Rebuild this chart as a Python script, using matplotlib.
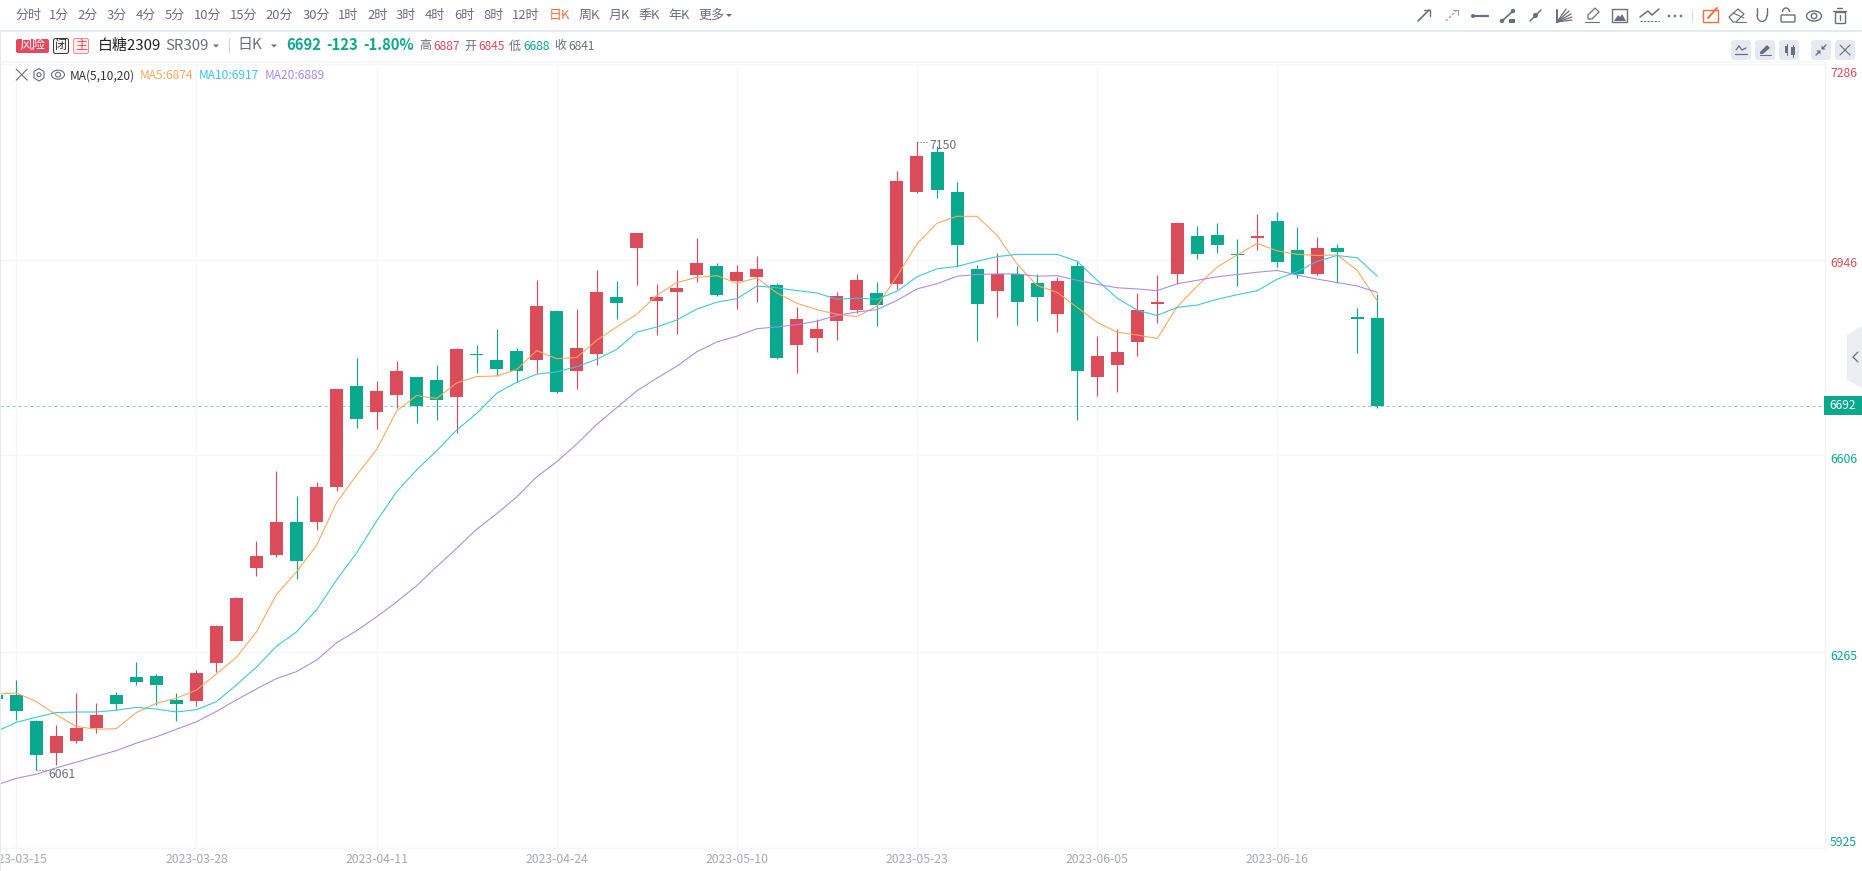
import matplotlib
matplotlib.use('Agg')
from matplotlib import pyplot as plt
from matplotlib.patches import Rectangle, FancyBboxPatch, Polygon, Circle, Ellipse, Arc

plt.rcParams['font.family'] = ['Noto Sans CJK SC', 'DejaVu Sans']

# daily candles, first one is cut off by the left edge of the chart
day_index = list(range(-1, 69))
opens = [6190, 6190, 6145, 6090, 6110, 6133, 6190, 6221, 6223, 6182, 6180, 6246, 6284, 6411, 6433, 6490, 6490, 6551,
         6726, 6681, 6711, 6742, 6737, 6707, 6782, 6771, 6787, 6771, 6856, 6752, 6782, 6881, 6966, 6874, 6889, 6919,
         6934, 6908, 6915, 6901, 6797, 6810, 6839, 6858, 6888, 6903, 7063, 7132, 7063, 6929, 6891, 6921, 6905, 6851,
         6934, 6742, 6763, 6803, 6868, 6921, 6986, 6988, 6955, 6983, 7012, 6962, 6921, 6966, 6846, 6845]
highs = [6192, 6216, 6147, 6138, 6194, 6176, 6195, 6247, 6227, 6194, 6234, 6312, 6360, 6457, 6579, 6535, 6560, 6721,
         6775, 6735, 6770, 6742, 6763, 6792, 6797, 6825, 6792, 6910, 6858, 6860, 6928, 6908, 6992, 6903, 6928, 6983,
         6940, 6936, 6952, 6905, 6863, 6842, 6889, 6921, 6907, 7099, 7150, 7143, 7080, 6936, 6957, 6934, 6921, 6915,
         6943, 6813, 6825, 6888, 6919, 7011, 7004, 7009, 6981, 7025, 7028, 7002, 6985, 6973, 6862, 6887]
lows = [6181, 6147, 6061, 6069, 6107, 6124, 6164, 6208, 6173, 6145, 6171, 6230, 6284, 6397, 6430, 6391, 6476, 6544,
        6653, 6652, 6688, 6662, 6667, 6645, 6749, 6744, 6733, 6749, 6714, 6721, 6763, 6843, 6902, 6815, 6817, 6907,
        6882, 6860, 6872, 6773, 6749, 6785, 6806, 6853, 6830, 6895, 7061, 7052, 6933, 6804, 6846, 6832, 6839, 6820,
        6667, 6709, 6716, 6778, 6836, 6903, 6947, 6957, 6900, 6962, 6933, 6914, 6919, 6905, 6784, 6688]
closes = [6183, 6162, 6086, 6119, 6133, 6156, 6175, 6213, 6208, 6175, 6228, 6310, 6358, 6431, 6490, 6423, 6551, 6721,
          6669, 6718, 6752, 6692, 6702, 6790, 6780, 6756, 6752, 6865, 6716, 6792, 6889, 6870, 6992, 6881, 6896, 6940,
          6884, 6924, 6929, 6775, 6842, 6825, 6882, 6910, 6867, 7082, 7125, 7066, 6971, 6868, 6921, 6872, 6881, 6908,
          6752, 6778, 6785, 6858, 6872, 7009, 6955, 6971, 6953, 6986, 6941, 6921, 6966, 6959, 6842, 6692]

ma5 = [6192, 6194, 6179, 6156, 6136, 6131, 6132, 6160, 6176, 6185, 6199, 6227, 6256, 6300, 6365, 6404, 6450, 6524,
       6572, 6616, 6683, 6710, 6705, 6732, 6743, 6744, 6755, 6788, 6774, 6776, 6806, 6829, 6851, 6884, 6906, 6915,
       6918, 6905, 6914, 6888, 6870, 6859, 6851, 6847, 6865, 6917, 6973, 7009, 7021, 7021, 6988, 6938, 6901, 6889,
       6863, 6837, 6820, 6815, 6809, 6864, 6900, 6933, 6954, 6974, 6961, 6955, 6953, 6954, 6927, 6874]
ma10 = [6127, 6143, 6152, 6160, 6161, 6161, 6164, 6169, 6166, 6161, 6165, 6179, 6208, 6239, 6275, 6300, 6338, 6390,
        6437, 6492, 6543, 6581, 6614, 6650, 6679, 6714, 6733, 6747, 6751, 6760, 6773, 6790, 6820, 6829, 6841, 6860,
        6872, 6878, 6900, 6897, 6892, 6888, 6877, 6879, 6877, 6891, 6916, 6930, 6934, 6943, 6951, 6955, 6955, 6955,
        6943, 6910, 6879, 6858, 6849, 6863, 6867, 6877, 6885, 6892, 6912, 6925, 6943, 6953, 6949, 6917]
ma20 = [6034, 6046, 6053, 6064, 6074, 6084, 6094, 6107, 6118, 6131, 6144, 6162, 6182, 6201, 6219, 6231, 6251, 6281,
        6302, 6326, 6352, 6380, 6413, 6445, 6478, 6505, 6534, 6569, 6595, 6626, 6660, 6689, 6718, 6740, 6761, 6786,
        6803, 6813, 6826, 6829, 6833, 6839, 6849, 6855, 6859, 6875, 6895, 6904, 6917, 6920, 6921, 6921, 6917, 6918,
        6910, 6903, 6897, 6895, 6892, 6904, 6910, 6916, 6920, 6924, 6927, 6919, 6912, 6906, 6900, 6889]

date_ticks = [0, 9, 18, 27, 36, 45, 54, 63]
date_labels = ['2023-03-15', '2023-03-28', '2023-04-11', '2023-04-24',
               '2023-05-10', '2023-05-23', '2023-06-05', '2023-06-16']
price_ticks = [7286, 6946, 6606, 6265, 5925]
last_price = 6692

intervals = ['分时', '1分', '2分', '3分', '4分', '5分', '10分', '15分', '20分', '30分', '1时', '2时', '3时',
             '4时', '6时', '8时', '12时', '日K', '周K', '月K', '季K', '年K', '更多']

RED = '#DB4C5A'
GREEN = '#0AA88C'
ORANGE = '#FFA65C'
CYAN = '#35C8E0'
PURPLE = '#A88CE6'
GREY = '#6B6E7B'
GRID = '#F5F6F8'

fig = plt.figure(figsize=(18.62, 8.71), dpi=100, facecolor='white')

# price chart, scales chosen so gridlines land on the same pixels as the reference
ax = fig.add_axes([0, 23 / 871, 1824.5 / 1862, 786 / 871])
ax.set_xlim(-0.814, 90.34)
ax.set_ylim(5925.3, 7288.7)

ax.set_xticks(date_ticks)
ax.set_xticklabels(date_labels, color='#A7A9B3', fontsize=8.8)
ax.set_yticks(price_ticks)
ax.set_yticklabels([])
ax.tick_params(length=0, pad=3.5)
ax.grid(True, color=GRID, lw=1.0)
ax.set_axisbelow(True)
for s in ['top', 'left']:
    ax.spines[s].set_visible(False)
ax.spines['right'].set_color('#EEF0F4')
ax.spines['bottom'].set_color(GRID)

# candles
for i, o, h, l, c in zip(day_index, opens, highs, lows, closes):
    col = RED if c > o else GREEN
    ax.vlines(i, l, h, color=col, lw=0.85, zorder=2)
    ax.bar(i, abs(c - o), bottom=min(o, c), width=0.65, color=col, lw=0, zorder=3)

ax.plot(day_index, ma5, color=ORANGE, lw=0.78, zorder=4)
ax.plot(day_index, ma10, color=CYAN, lw=0.78, zorder=4)
ax.plot(day_index, ma20, color=PURPLE, lw=0.78, zorder=4)

ax.axhline(last_price, color='#0A9C84', lw=0.72, ls=(0, (3, 3)), alpha=0.5, zorder=1)

# highest / lowest price notes
ax.plot([45, 45.55], [7150, 7150], color=GREY, lw=0.8, ls=':', zorder=5)
ax.annotate('7150', (45, 7150), xytext=(8.9, -2.3), textcoords='offset points', color=GREY, fontsize=8.8,
            va='center')
ax.plot([1, 1.55], [6061, 6061], color=GREY, lw=0.8, ls=':', zorder=5)
ax.annotate('6061', (1, 6061), xytext=(8.6, -3.4), textcoords='offset points', color=GREY, fontsize=8.8,
            va='center')

# price axis labels on the right
label_shift = [-7.1, -2.9, -2.9, -2.9, 4.1]
for p, dy in zip(price_ticks, label_shift):
    ax.annotate(str(p), (1, p), xycoords=ax.get_yaxis_transform(), xytext=(4, dy), textcoords='offset points',
                color=RED if p > last_price else GREEN, fontsize=8.8, va='center', annotation_clip=False)

# everything around the chart is drawn in screen pixels
ui = fig.add_axes([0, 0, 1, 1], zorder=5)
ui.set_xlim(0, 1862)
ui.set_ylim(871, 0)
ui.axis('off')
ui.patch.set_alpha(0)


def txt(x, y, s, color=GREY, px=12, ha='left', weight='normal'):
    # noto cjk sits a pixel high when centred
    ui.text(x, y + 1, s, color=color, fontsize=px * 0.72, ha=ha, va='center', weight=weight)


def line(xs, ys, color=GREY, lw=1.0, ls='-'):
    ui.plot(xs, ys, color=color, lw=lw, ls=ls, solid_capstyle='round')


def caret(x, y, color=GREY):
    ui.add_patch(Polygon([(x - 3, y - 1.5), (x + 3, y - 1.5), (x, y + 1.5)], color=color, lw=0))


def cross(x, y, r=5, color=GREY, lw=0.8):
    line([x - r, x + r], [y - r, y + r], color, lw)
    line([x - r, x + r], [y + r, y - r], color, lw)


def eye(x, y, w=15, h=10, lw=0.9):
    ui.add_patch(Ellipse((x, y), w, h, fill=False, ec=GREY, lw=lw))
    ui.add_patch(Circle((x, y), h * 0.27, fill=False, ec=GREY, lw=lw))


ui.add_patch(Rectangle((0, 30), 1862, 2.2, color='#E6E9EF', lw=0))
ui.add_patch(Rectangle((0, 32), 1.2, 839, color='#E6E9EF', lw=0))
ui.add_patch(Rectangle((0, 61.5), 1824, 1.2, color='#F6F7F8', lw=0))

# interval bar
bar_x = [28, 59, 88, 117, 146, 175, 208, 244, 279, 316, 348, 377.5, 406, 435, 464, 493, 525.5, 559, 589, 619,
         649, 679, 711]
for x, s in zip(bar_x, intervals):
    txt(x, 14.7, s, '#FF6B35' if s == '日K' else GREY, 13, 'center')
caret(729, 15.5)

# quote row
ui.add_patch(FancyBboxPatch((16, 39), 33, 14, boxstyle='round,pad=0,rounding_size=2', color='#E6475A', lw=0))
txt(32.5, 44.8, '风险', 'white', 13, 'center')
ui.add_patch(FancyBboxPatch((53.5, 38.5), 15, 15, boxstyle='round,pad=0,rounding_size=2', fc='#F2F3F5',
                            ec='#333333', lw=0.7))
txt(61, 44.8, '闭', '#333333', 12, 'center')
ui.add_patch(FancyBboxPatch((73.5, 38.5), 15, 15, boxstyle='round,pad=0,rounding_size=2', fc='#FDECEC',
                            ec='#EE8A92', lw=0.7))
txt(81, 44.8, '主', RED, 12, 'center')
txt(97.5, 44.5, '白糖2309', '#222222', 15)
txt(165, 44.5, 'SR309', GREY, 15)
caret(216, 46)
line([229, 229], [38, 53], '#D5D7DD', 0.8)
txt(237.5, 44.5, '日K', GREY, 15)
caret(274, 46)
txt(286.5, 44.5, '6692', GREEN, 14.8, weight='bold')
txt(326.5, 44.5, '-123', GREEN, 14.8, weight='bold')
txt(363.5, 44.5, '-1.80%', GREEN, 14.8, weight='bold')
txt(419.5, 45, '高', GREY)
txt(433.5, 45, '6887', RED)
txt(464, 45, '开', GREY)
txt(478.5, 45, '6845', RED)
txt(509, 45, '低', GREY)
txt(523.5, 45, '6688', GREEN)
txt(554.5, 45, '收', GREY)
txt(568.5, 45, '6841', GREY)

# indicator row
cross(21.7, 74.7, 5.5)
ui.add_patch(Polygon([(39, 68.5), (44, 71.5), (44, 78), (39, 81), (34, 78), (34, 71.5)], fill=False, ec=GREY, lw=0.8))
ui.add_patch(Circle((39, 74.7), 2, fill=False, ec=GREY, lw=0.8))
eye(58, 74.7, 13, 9, 0.8)
txt(70, 74.7, 'MA(5,10,20)', '#333333')
txt(140, 74.7, 'MA5:6874', ORANGE)
txt(199, 74.7, 'MA10:6917', CYAN)
txt(265, 74.7, 'MA20:6889', PURPLE)

# drawing tools, top right
line([1418, 1429], [21, 10], GREY, 1.2)
line([1424, 1430, 1430], [10, 10, 16], GREY, 1.0)
line([1446, 1457], [21, 10], '#9A9CA6', 0.9, (0, (2, 1.5)))
line([1453, 1458, 1458], [10, 10, 15], '#9A9CA6', 0.8)
line([1473, 1488], [16, 16], GREY, 1.6)
ui.add_patch(Circle((1473, 16), 2, color=GREY, lw=0))
line([1502, 1513], [21, 11], GREY, 1.2)
ui.add_patch(Circle((1513, 11), 2.2, color=GREY, lw=0))
ui.add_patch(Circle((1502, 21), 2.2, color=GREY, lw=0))
ui.add_patch(Rectangle((1509, 19.5), 6, 3.5, color=GREY, lw=0))
line([1530, 1541], [21, 10], GREY, 1.1)
ui.add_patch(Circle((1535.5, 15.5), 2.5, color=GREY, lw=0))
for ex, ey in [(1566, 9), (1569, 11), (1571, 14), (1572, 17), (1572, 20)]:
    line([1557, ex], [22, ey], GREY, 0.9)
line([1557, 1557], [22, 10], GREY, 1.4)
line([1585, 1599], [22, 22], GREY, 0.8)
ui.add_patch(Polygon([(1588, 15), (1595, 8), (1599, 12), (1592, 19), (1588, 19)], fill=False, ec=GREY, lw=0.9))
ui.add_patch(Rectangle((1612, 9), 15, 13, fill=False, ec=GREY, lw=1.0))
ui.add_patch(Polygon([(1614, 21), (1618, 15), (1620, 17), (1622, 14), (1626, 21)], color=GREY, lw=0))
line([1640, 1648, 1652, 1659], [17, 11, 15, 9], GREY, 1.1)
line([1640, 1659], [21, 21], GREY, 0.8, (0, (2, 1.2)))
for dx in [1669, 1675, 1681]:
    ui.add_patch(Circle((dx, 16), 1.3, color=GREY, lw=0))
line([1692, 1692], [10, 21], '#DADCE1', 0.9)
ui.add_patch(Rectangle((1702.5, 10), 15, 12, fill=False, ec='#FF6B35', lw=1.0))
line([1708, 1717], [18, 8], '#FF6B35', 1.4)
ui.add_patch(Polygon([(1729, 17), (1738, 9), (1744, 14), (1736, 22), (1733, 22)], fill=False, ec=GREY, lw=0.9))
line([1733, 1744], [13, 18], GREY, 0.8)
line([1736, 1746], [22, 22], GREY, 0.8)
ui.add_patch(Arc((1762, 15), 10, 13, theta1=0, theta2=180, ec=GREY, lw=1.0))
line([1757, 1757], [8, 15], GREY, 1.0)
line([1767, 1767], [8, 15], GREY, 1.0)
ui.add_patch(FancyBboxPatch((1781, 15), 14, 7, boxstyle='round,pad=0,rounding_size=1', fill=False, ec=GREY, lw=1.0))
ui.add_patch(Arc((1786, 12), 7, 8, theta1=180, theta2=360, ec=GREY, lw=1.0))
eye(1814, 16, 15, 10, 1.0)
ui.add_patch(Rectangle((1834.5, 12), 10, 11, fill=False, ec=GREY, lw=1.0))
line([1832.5, 1846], [11, 11], GREY, 1.0)
line([1837, 1842], [8.5, 8.5], GREY, 1.0)
line([1839.5, 1839.5], [15, 20], GREY, 1.0)

# small buttons in the quote row
for bx in [1731, 1755, 1779, 1811, 1835]:
    ui.add_patch(FancyBboxPatch((bx, 40), 20, 20, boxstyle='round,pad=0,rounding_size=3', color='#E6E9F0', lw=0))
line([1736, 1739, 1742, 1746], [50, 46, 50, 48], GREY, 0.9)
line([1735, 1747], [54, 54], GREY, 0.9)
ui.add_patch(Polygon([(1760, 52), (1767, 45), (1770, 48), (1763, 54), (1760, 54)], color=GREY, lw=0))
line([1760, 1771], [55.5, 55.5], GREY, 0.8)
ui.add_patch(Rectangle((1785, 46), 3, 7, color=GREY, lw=0))
ui.add_patch(Rectangle((1791, 47), 3.5, 8, color=GREY, lw=0))
line([1786.5, 1786.5], [44, 55], GREY, 0.7)
line([1792.8, 1792.8], [45, 57], GREY, 0.7)
# collapse button, two arrows pointing at the middle
line([1816, 1819.5], [55, 51.5], GREY, 1.0)
ui.add_patch(Polygon([(1820.5, 50.5), (1816.5, 50.5), (1820.5, 54.5)], color=GREY, lw=0))
line([1822.5, 1826], [48.5, 45], GREY, 1.0)
ui.add_patch(Polygon([(1821.5, 49.5), (1825.5, 49.5), (1821.5, 45.5)], color=GREY, lw=0))
cross(1845, 50, 5, GREY, 0.8)

# last price tag and side handle
ui.add_patch(Rectangle((1824, 396), 38, 18.5, color=GREEN, lw=0))
txt(1843, 404.5, '6692', 'white', 12, 'center')
ui.add_patch(Polygon([(1862, 326), (1847, 335), (1847, 380), (1862, 388)], color='#EDEEF1', lw=0))
line([1858, 1853, 1858], [352, 357, 362], GREY, 0.9)

fig.savefig('out.png', dpi=100)
